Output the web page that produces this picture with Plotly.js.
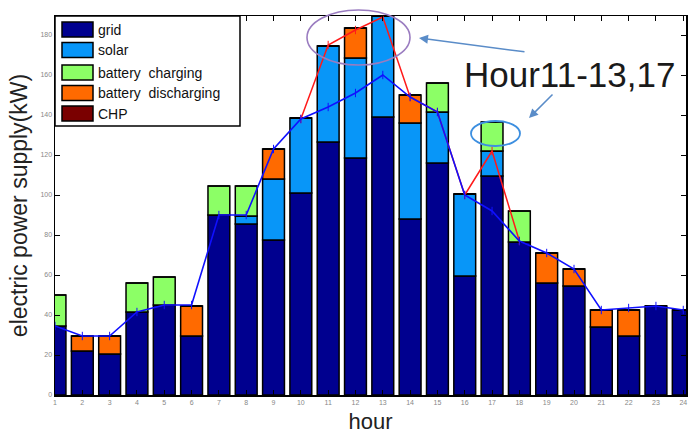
<!DOCTYPE html>
<html>
<head>
<meta charset="utf-8">
<script src="https://cdn.plot.ly/plotly-3.0.1.min.js"></script>
<style>
  html, body { margin: 0; padding: 0; background: #fff; }
  #chart { width: 689px; height: 434px; }
</style>
</head>
<body>
<div id="chart"></div>
<script>
// Hourly electric power supply by source (kW)
const hours = [1,2,3,4,5,6,7,8,9,10,11,12,13,14,15,16,17,18,19,20,21,22,23,24];

const gridSupply   = [34.5,22,20.5,41.5,45,29.5,90,85.5,77.5,101,126.5,118.5,139,88,116,59.5,109.5,76.5,56,54.5,34,29.5,44.5,42.5];
const solarSupply  = [0,0,0,0,0,0,0,4,30.5,37.5,48,50,50.5,48,25.5,41,12.5,0,0,0,0,0,0,0];
const batteryCharging    = [15.5,0,0,14.5,14,0,14.5,15,0,0,0,0,0,0,14.5,0,14.5,15.5,0,0,0,0,0,0];
const batteryDischarging = [0,7.5,9,0,0,15,0,0,15,0,0,15,0,14,0,0,0,0,15,8.5,8.5,13,0,0];
const chpSupply    = [0,0,0,0,0,0,0,0,0,0,0,0,0,0,0,0,0,0,0,0,0,0,0,0];

// load profile (blue) and peak-hour supply profile (red, hours 10-18)
const loadDemand = [34.5,29.5,29.5,41.5,45,45,90,90,123,138,144,151,160,149,141.5,100,92,77,71,63,42.5,43.5,44.5,42.5];
const peakSupply = [null,null,null,null,null,null,null,null,null,138,175,182.5,189,149,141.5,100,122,77,null,null,null,null,null,null];

const seriesNames  = ['grid','solar','battery  charging','battery  discharging','CHP'];
const seriesColors = ['#00008f','#0896f8','#8cff66','#ff6a00','#7a0000'];

const yTicks = [0,20,40,60,80,100,120,140,160,180];

function barTrace(y, idx) {
  return {
    type: 'bar', x: hours, y: y, name: seriesNames[idx],
    width: 0.8,
    marker: { color: seriesColors[idx], line: { color: '#000', width: 1.5 } },
    showlegend: false, hoverinfo: 'x+y'
  };
}

const traces = [
  barTrace(gridSupply, 0),
  barTrace(solarSupply, 1),
  barTrace(batteryDischarging, 3),
  barTrace(batteryCharging, 2),
  barTrace(chpSupply, 4),
  {
    type: 'scatter', mode: 'lines+markers', x: hours, y: peakSupply,
    line: { color: '#ff1a1a', width: 1.5 },
    marker: { symbol: 'line-ns-open', size: 6, line: { color: '#ff1a1a', width: 1 } },
    showlegend: false, connectgaps: false
  },
  {
    type: 'scatter', mode: 'lines+markers', x: hours, y: loadDemand,
    line: { color: '#1010ff', width: 1.6 },
    marker: { symbol: 'line-ns-open', size: 6, line: { color: '#1010ff', width: 1 } },
    showlegend: false
  }
];

// plot-area geometry helpers (paper coordinates)
const L = 55, R = 686, T = 16, B = 395;
const px = v => (v - L) / (R - L);
const py = v => (B - v) / (B - T);

// hand-built legend box with wide swatches
const shapes = [
  { type: 'rect', xref: 'paper', yref: 'paper', x0: px(55), x1: px(240), y0: py(126), y1: py(16),
    line: { color: '#000', width: 1.5 }, fillcolor: '#fff', layer: 'above' }
];
const annotations = [];
const legendOrder = [0,1,2,3,4];
const rowCenters = [29.5, 50, 72.5, 93, 113.5];
legendOrder.forEach((s, i) => {
  const c = rowCenters[i];
  shapes.push({ type: 'rect', xref: 'paper', yref: 'paper',
    x0: px(62), x1: px(93), y0: py(c + 7.5), y1: py(c - 7.5),
    fillcolor: seriesColors[s], line: { color: '#000', width: 1.5 }, layer: 'above' });
  annotations.push({ xref: 'paper', yref: 'paper', x: px(96), y: py(c),
    xanchor: 'left', yanchor: 'middle', showarrow: false, text: seriesNames[s],
    font: { family: 'Liberation Sans, Arial, sans-serif', size: 14, color: '#111' } });
});

// highlight ellipses
shapes.push({ type: 'circle', xref: 'paper', yref: 'paper',
  x0: px(307), x1: px(410), y0: py(65), y1: py(10),
  line: { color: '#9a7cc0', width: 1.6 }, layer: 'above' });
shapes.push({ type: 'circle', xref: 'paper', yref: 'paper',
  x0: px(471), x1: px(520), y0: py(146), y1: py(121),
  line: { color: '#3d8fe0', width: 1.8 }, layer: 'above' });

// callout text and arrows
annotations.push({ xref: 'paper', yref: 'paper', x: px(569), y: py(74),
  xanchor: 'center', yanchor: 'middle', showarrow: false, text: 'Hour11-13,17',
  font: { family: 'Liberation Sans, Arial, sans-serif', size: 35, color: '#1a1a1a' } });
annotations.push({ xref: 'paper', yref: 'paper', x: px(419), y: py(38), text: '',
  showarrow: true, arrowhead: 2, arrowsize: 1.2, arrowwidth: 1.5, arrowcolor: '#5a8cc8',
  ax: 107, ay: 14 });
annotations.push({ xref: 'paper', yref: 'paper', x: px(529), y: py(118), text: '',
  showarrow: true, arrowhead: 2, arrowsize: 1.2, arrowwidth: 1.5, arrowcolor: '#5a8cc8',
  ax: 25, ay: -25 });

const axisCommon = {
  showline: true, linecolor: '#000', linewidth: 1.5, mirror: 'ticks',
  ticks: 'inside', ticklen: 5, tickwidth: 1, tickcolor: '#000',
  showgrid: false, zeroline: false,
  tickfont: { family: 'Liberation Sans, Arial, sans-serif', size: 7, color: '#888' }
};

const layout = {
  width: 689, height: 434,
  margin: { l: L, r: 689 - R, t: T, b: 434 - B },
  paper_bgcolor: '#fff', plot_bgcolor: '#fff',
  barmode: 'relative', bargap: 0.2,
  xaxis: Object.assign({}, axisCommon, {
    range: [1, 24.1], tickmode: 'array', tickvals: hours, ticktext: hours.map(String),
    title: { text: 'hour', standoff: 13,
      font: { family: 'Liberation Sans, Arial, sans-serif', size: 22, color: '#222' } },
    automargin: false
  }),
  yaxis: Object.assign({}, axisCommon, {
    range: [0, 189.5], tickmode: 'array', tickvals: yTicks, ticktext: yTicks.map(String),
    title: { text: 'electric power supply(kW)', standoff: 6,
      font: { family: 'Liberation Sans, Arial, sans-serif', size: 23, color: '#222' } },
    automargin: false
  }),
  shapes: shapes,
  annotations: annotations,
  showlegend: false
};

Plotly.newPlot('chart', traces, layout, { displayModeBar: false, staticPlot: true });
</script>
</body>
</html>
